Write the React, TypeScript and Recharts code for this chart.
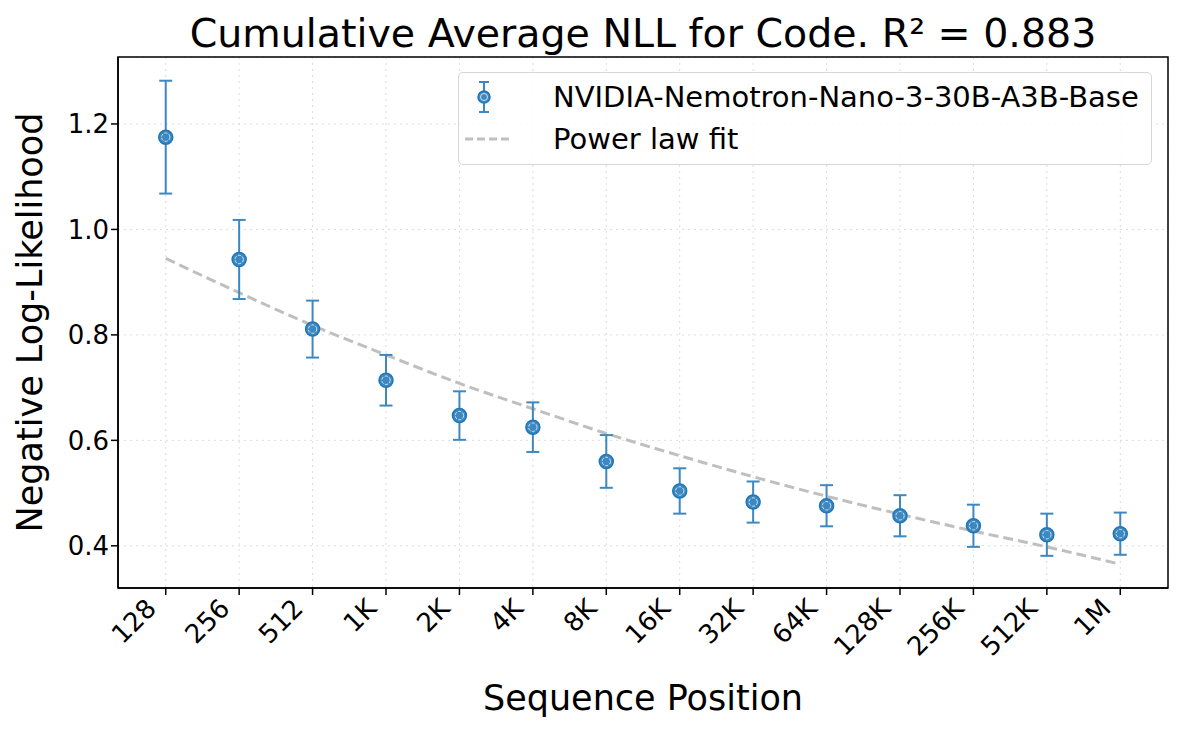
import React from 'react'
import {
  ComposedChart, Scatter, Line, XAxis, YAxis, CartesianGrid, ErrorBar, ReferenceArea,
} from 'recharts'

const positions = ['128', '256', '512', '1K', '2K', '4K', '8K', '16K', '32K', '64K', '128K', '256K', '512K', '1M']
const nll = [1.175, 0.943, 0.811, 0.714, 0.647, 0.625, 0.560, 0.504, 0.483, 0.476, 0.457, 0.438, 0.421, 0.423]
const nllErr = [0.107, 0.075, 0.054, 0.048, 0.046, 0.047, 0.050, 0.043, 0.039, 0.039, 0.039, 0.040, 0.040, 0.040]
const powerFit = [0.945, 0.880, 0.818, 0.762, 0.708, 0.660, 0.613, 0.571, 0.531, 0.494, 0.460, 0.428, 0.398, 0.365]
const yTicks = [0.4, 0.6, 0.8, 1.0, 1.2]

const BLUE = '#3d88c1'
const FONT = '"DejaVu Sans", sans-serif'

const data = positions.map((label, i) => ({
  idx: i, label, nll: nll[i], err: nllErr[i], fit: powerFit[i],
}))

const Marker = (props: any) => {
  const { cx, cy } = props
  if (cx == null || cy == null) return null
  return (
    <g>
      <circle cx={cx} cy={cy} r={7} fill={BLUE} stroke="#1f77b4" strokeWidth={1.5} />
      <circle cx={cx} cy={cy} r={4.2} fill="none" stroke="#ffffff" strokeWidth={1} strokeOpacity={0.75} strokeDasharray="3 1.5" />
    </g>
  )
}

const XTick = (props: any) => {
  const { x, y, payload } = props
  const ax = x - 8
  const ay = y + 13
  return (
    <text x={ax} y={ay} transform={`rotate(-45 ${ax} ${ay})`} textAnchor="end"
      fontSize={26} fontFamily={FONT} fill="#000">
      {positions[payload.value]}
    </text>
  )
}

export default function App() {
  return (
    <div style={{ position: 'absolute', left: 0, top: 0, width: 1183, height: 733, background: '#fff', fontFamily: FONT }}>
      <ComposedChart width={1183} height={733} data={data} margin={{ top: 57, right: 15, bottom: 0, left: 0 }}>
        <CartesianGrid stroke="#dcdcdc" strokeDasharray="2 4" />
        <XAxis type="number" dataKey="idx" domain={[-0.65, 13.65]} ticks={positions.map((_, i) => i)}
          allowDataOverflow tick={<XTick />} tickSize={7} height={145}
          axisLine={{ stroke: '#000', strokeWidth: 1.5 }} tickLine={{ stroke: '#000', strokeWidth: 1.5 }}
          label={{ value: 'Sequence Position', position: 'insideBottom', offset: 23, fontSize: 35, fill: '#000', fontFamily: FONT }} />
        <YAxis type="number" domain={[0.32, 1.327]} ticks={yTicks} allowDataOverflow width={118}
          tickFormatter={(v: number) => v.toFixed(1)} tickSize={7}
          tick={{ fontSize: 26, fill: '#000', fontFamily: FONT }}
          axisLine={{ stroke: '#000', strokeWidth: 1.5 }} tickLine={{ stroke: '#000', strokeWidth: 1.5 }}
          label={{ value: 'Negative Log-Likelihood', angle: -90, position: 'insideLeft', offset: 30, fontSize: 35, fill: '#000', fontFamily: FONT, style: { textAnchor: 'middle' } }} />
        <ReferenceArea x1={-0.65} x2={13.65} y1={0.32} y2={1.327} fill="none" stroke="#000" strokeWidth={1.5} ifOverflow="visible" />
        <Line dataKey="fit" type="monotone" stroke="#bfbfbf" strokeWidth={3} strokeDasharray="10 5"
          dot={false} activeDot={false} isAnimationActive={false} />
        <Scatter dataKey="nll" fill={BLUE} shape={<Marker />} isAnimationActive={false}>
          <ErrorBar dataKey="err" direction="y" width={6.5} stroke={BLUE} strokeWidth={2} />
        </Scatter>
      </ComposedChart>
      <div style={{ position: 'absolute', left: 0, width: 1286, top: 10, textAlign: 'center', fontSize: 39.5, color: '#000', whiteSpace: 'nowrap' }}>
        Cumulative Average NLL for Code. R² = 0.883
      </div>
      <div style={{ position: 'absolute', left: 458, top: 72, width: 694, height: 93, border: '1.5px solid #d6d6d6', borderRadius: 5, background: 'rgba(255,255,255,0.85)', boxSizing: 'border-box' }}>
        <svg width={80} height={92} style={{ position: 'absolute', left: 0, top: 0 }}>
          <line x1={25} y1={9} x2={25} y2={39} stroke={BLUE} strokeWidth={2} />
          <line x1={20} y1={9} x2={30} y2={9} stroke={BLUE} strokeWidth={2} />
          <line x1={20} y1={39} x2={30} y2={39} stroke={BLUE} strokeWidth={2} />
          <circle cx={25} cy={24} r={6} fill={BLUE} stroke="#1f77b4" strokeWidth={1.5} />
          <circle cx={25} cy={24} r={3.5} fill="none" stroke="#fff" strokeWidth={1} strokeOpacity={0.75} />
          <line x1={6} y1={66} x2={50} y2={66} stroke="#bfbfbf" strokeWidth={3} strokeDasharray="8 4" />
        </svg>
        <div style={{ position: 'absolute', left: 94, top: 7, fontSize: 29, lineHeight: '34px', whiteSpace: 'nowrap' }}>NVIDIA-Nemotron-Nano-3-30B-A3B-Base</div>
        <div style={{ position: 'absolute', left: 94, top: 49, fontSize: 29, lineHeight: '34px', whiteSpace: 'nowrap' }}>Power law fit</div>
      </div>
    </div>
  )
}
